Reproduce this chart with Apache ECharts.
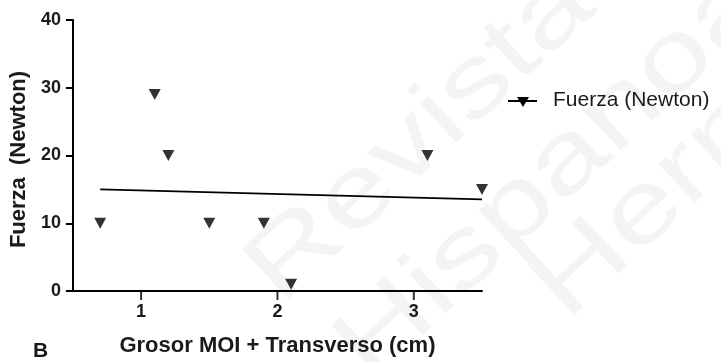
<!DOCTYPE html>
<html>
<head>
<meta charset="utf-8">
<script src="https://cdn.jsdelivr.net/npm/echarts@6/dist/echarts.min.js"></script>
<style>html,body{margin:0;padding:0;background:#fff;}#c{width:721px;height:362px;}</style>
</head>
<body>
<div id="c"></div>
<script>
var xValues = [0.7, 1.1, 1.2, 1.5, 1.9, 2.1, 3.1, 3.5];
var yValues = [10, 29, 20, 10, 10, 1, 20, 15];
var xTicks = [1, 2, 3];
var yTicks = [0, 10, 20, 30, 40];
var seriesName = 'Fuerza (Newton)';
var watermarkWords = ['Revista', 'Hispanoamericana', 'Hernia'];

// linear regression from data
var n = xValues.length, mx = 0, my = 0;
for (var i = 0; i < n; i++) { mx += xValues[i]; my += yValues[i]; }
mx /= n; my /= n;
var sxy = 0, sxx = 0;
for (var i = 0; i < n; i++) { sxy += (xValues[i]-mx)*(yValues[i]-my); sxx += (xValues[i]-mx)*(xValues[i]-mx); }
var slope = sxy/sxx, icpt = my - slope*mx;
var xMin = Math.min.apply(null, xValues), xMax = Math.max.apply(null, xValues);
var fitLine = [[xMin, icpt + slope*xMin], [xMax, icpt + slope*xMax]];

var tri = 'path://M0,0 L10,0 L5,9 Z';
var font = '"Liberation Sans", Arial, sans-serif';
var wmFont = '100px "Liberation Sans", Arial, sans-serif';
var wmRot = 43 * Math.PI / 180;
function wm(word, x, y) {
  return {type: 'text', x: x, y: y, rotation: wmRot, scaleX: 1.3, z: -10, silent: true,
    style: {text: word, font: wmFont, fill: '#f4f4f4', textAlign: 'left', textVerticalAlign: 'middle'}};
}
var chart = echarts.init(document.getElementById('c'));
chart.setOption({
  animation: false,
  grid: {left: 72, right: 239, top: 20, bottom: 71},
  xAxis: {
    type: 'value', min: 0.5, max: 3.5,
    axisLine: {lineStyle: {color: '#000', width: 2}},
    axisTick: {show: false},
    splitLine: {show: false},
    axisLabel: {show: true, customValues: xTicks, fontFamily: font, fontWeight: 'bold', fontSize: 18, color: '#1a1a1a', margin: 12},
    name: 'Grosor MOI + Transverso (cm)', nameLocation: 'middle', nameGap: 44,
    nameTextStyle: {fontFamily: font, fontWeight: 'bold', fontSize: 22, color: '#1a1a1a'}
  },
  yAxis: {
    type: 'value', min: 0, max: 40, interval: 10,
    axisLine: {show: true, lineStyle: {color: '#000', width: 2}},
    axisTick: {show: true, length: 7, lineStyle: {color: '#000', width: 2}},
    splitLine: {show: false},
    axisLabel: {fontFamily: font, fontWeight: 'bold', fontSize: 18, color: '#1a1a1a', margin: 12,
      formatter: function(v){ return yTicks.indexOf(v) >= 0 ? String(v) : ''; }},
    name: 'Fuerza  (Newton)', nameLocation: 'middle', nameGap: 42,
    nameTextStyle: {fontFamily: font, fontWeight: 'bold', fontSize: 22, color: '#1a1a1a', padding: [0, 8, 0, 0]}
  },
  series: [
    {
      type: 'scatter', name: seriesName,
      symbol: tri, symbolSize: [12, 11],
      itemStyle: {color: '#000'},
      data: xValues.map(function(x, i){ return [x, yValues[i]]; }),
      z: 3
    },
    {
      type: 'line', data: fitLine, symbol: 'none',
      lineStyle: {color: '#000', width: 1.6}, z: 2
    },
    {
      // x-axis tick marks at 1, 2, 3
      type: 'scatter', data: xTicks.map(function(t){ return [t, 0]; }),
      symbol: 'rect', symbolSize: [2, 9], symbolOffset: [0, 4.5],
      itemStyle: {color: '#000'}, silent: true, z: 1
    }
  ],
  graphic: [
    wm(watermarkWords[0], 262, 286),
    wm(watermarkWords[1], 352, 363),
    wm(watermarkWords[2], 548, 302),
    {type: 'line', shape: {x1: 508, y1: 101, x2: 537, y2: 101}, style: {stroke: '#000', lineWidth: 2}},
    {type: 'polygon', shape: {points: [[517, 97], [529, 97], [523, 107]]}, style: {fill: '#000'}},
    {type: 'text', left: 553, top: 90, style: {text: seriesName, font: '21px "Liberation Sans", Arial, sans-serif', fill: '#1a1a1a'}},
    {type: 'text', left: 33, top: 341, style: {text: 'B', font: 'bold 21px "Liberation Sans", Arial, sans-serif', fill: '#1a1a1a'}}
  ]
});
</script>
</body>
</html>
